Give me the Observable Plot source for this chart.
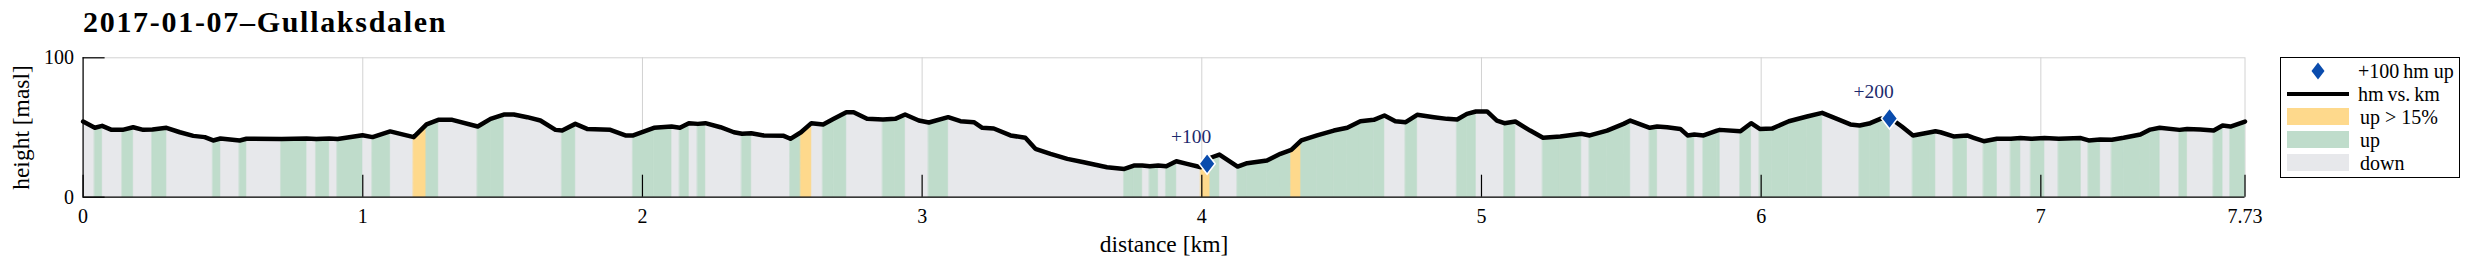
<!DOCTYPE html>
<html><head><meta charset="utf-8">
<script src="https://cdn.jsdelivr.net/npm/d3@7"></script>
<script src="https://cdn.jsdelivr.net/npm/@observablehq/plot@0.6"></script>
<style>
body{margin:0;background:#fff;font-family:"Liberation Serif",serif;color:#000;}
#wrap{position:relative;width:2472px;height:268px;overflow:hidden;}
#title{position:absolute;left:83px;top:7px;font-size:30px;font-weight:bold;line-height:30px;white-space:nowrap;letter-spacing:1.7px;}
#chart{position:absolute;left:0;top:40px;}
#legend{position:absolute;left:2280px;top:57px;width:180px;height:121px;border:1px solid #000;background:#fff;box-sizing:border-box;}
.li{position:absolute;left:0;width:180px;height:22px;}
.sw{position:absolute;left:6px;width:62px;}
.lt{position:absolute;left:77px;top:0;font-size:20px;line-height:22px;white-space:nowrap;}
</style></head>
<body>
<div id="wrap">
  <div id="title"></div>
  <div id="chart"></div>
  <div id="legend"></div>
</div>
<script>
// ---- data ----
const title = "2017-01-07–Gullaksdalen";
const km = [0.000,0.042,0.068,0.102,0.141,0.179,0.215,0.248,0.298,0.346,0.394,0.435,0.465,0.491,0.560,0.584,0.709,0.799,0.834,0.880,0.910,0.999,1.035,1.098,1.182,1.228,1.270,1.320,1.411,1.457,1.504,1.540,1.588,1.635,1.689,1.713,1.760,1.802,1.885,1.939,1.967,2.041,2.104,2.134,2.166,2.198,2.225,2.279,2.327,2.356,2.389,2.434,2.505,2.529,2.567,2.604,2.646,2.684,2.729,2.755,2.803,2.860,2.904,2.939,2.988,3.024,3.093,3.137,3.185,3.215,3.256,3.316,3.369,3.405,3.459,3.519,3.578,3.661,3.723,3.757,3.787,3.814,3.844,3.873,3.909,3.947,3.997,4.031,4.063,4.128,4.162,4.233,4.281,4.320,4.356,4.412,4.472,4.520,4.567,4.615,4.653,4.692,4.729,4.770,4.830,4.877,4.913,4.948,4.980,5.020,5.055,5.082,5.121,5.174,5.220,5.282,5.357,5.387,5.449,5.508,5.532,5.602,5.628,5.664,5.711,5.737,5.761,5.794,5.842,5.852,5.926,5.964,5.995,6.039,6.099,6.164,6.218,6.271,6.319,6.352,6.390,6.426,6.460,6.503,6.543,6.605,6.623,6.641,6.688,6.736,6.760,6.796,6.843,6.893,6.927,6.965,7.013,7.064,7.143,7.171,7.212,7.254,7.296,7.356,7.391,7.425,7.496,7.523,7.570,7.618,7.650,7.678,7.730];
const elev = [54.3,49.8,51.2,48.3,48.3,50.2,48.3,48.5,49.8,46.6,44.0,43.1,40.7,42.1,40.7,41.9,41.7,42.1,41.7,42.1,41.7,44.5,43.1,47.2,43.1,52.2,55.5,55.5,50.7,56.2,59.3,59.3,57.4,55.0,48.3,47.8,52.6,49.0,48.3,44.3,44.3,49.8,50.7,49.8,53.1,52.6,53.1,50.2,46.6,45.5,45.9,44.3,44.0,41.9,46.6,53.1,52.2,56.2,61.0,61.0,56.2,55.7,56.2,59.3,55.0,53.6,57.4,54.5,53.8,49.8,49.3,44.3,42.6,34.7,31.1,27.5,25.1,21.5,20.3,22.7,22.7,22.2,22.7,22.2,25.8,23.9,21.5,28.3,30.6,22.0,24.4,26.3,31.1,33.9,40.7,44.3,47.8,49.8,54.5,55.5,58.6,54.5,53.8,59.1,57.4,56.2,55.7,59.8,61.5,61.5,55.0,53.1,54.3,47.8,42.6,43.6,45.5,44.3,47.8,52.6,55.0,49.8,50.7,50.2,49.0,44.3,45.0,44.3,47.8,48.3,47.3,53.1,49.0,49.2,54.5,57.9,60.5,56.2,52.2,51.4,53.1,56.2,57.0,50.7,44.3,46.6,47.3,46.6,43.6,44.3,42.6,40.2,41.9,41.9,42.4,41.9,42.4,41.9,42.4,40.7,41.4,41.2,42.6,45.0,48.5,49.8,48.3,49.0,48.5,47.8,51.4,50.7,54.3];
// per segment between consecutive points: d = down, u = up, s = up > 15%
const segClass = ["d","u","d","d","u","d","d","u","d","d","d","d","u","d","u","d","u","d","u","d","u","d","u","d","s","u","d","d","u","u","d","d","d","d","d","u","d","d","d","d","u","u","d","u","d","u","d","d","d","u","d","d","d","u","s","d","u","u","d","d","d","u","u","d","d","u","d","d","d","d","d","d","d","d","d","d","d","d","u","u","d","u","d","u","d","d","s","u","d","u","u","u","u","s","u","u","u","u","u","u","d","d","u","d","d","d","u","u","d","d","d","u","d","d","u","u","d","u","u","u","d","u","d","d","d","u","d","u","u","d","u","d","u","u","u","u","d","d","d","u","u","u","d","d","u","u","d","d","u","d","d","u","d","u","d","u","d","u","d","u","d","u","u","u","u","d","u","d","d","u","d","u"];
const classKeys = ["s","u","d"];
const classNames = ["up > 15%","up","down"];
const markerKm = [4.019, 6.459];
const markerElev = [24.0, 56.5];
const markerLabel = ["+100","+200"];
const xTicks = [0,1,2,3,4,5,6,7,7.73];
const xTickLabels = ["0","1","2","3","4","5","6","7","7.73"];
const yTicks = [0,100];
const xLabel = "distance [km]";
const yLabel = "height [masl]";
const legendLabels = ["+100\u2009hm up","hm\u2009vs.\u2009km","up > 15%","up","down"];

// ---- styles ----
const C_STEEP = "#fed98c", C_UP = "#bfdccb", C_DOWN = "#e7e8eb";
const C_MARK = "#0a4cad", C_MARKTXT = "#1c2a6c", C_GRID = "#d2d2d2";
const FONT = "Liberation Serif";

document.getElementById("title").textContent = title;

const points = km.map((k, i) => ({km: k, elev: elev[i]}));
const segs = [];
for (let i = 0; i < km.length - 1; i++) {
  const name = classNames[classKeys.indexOf(segClass[i])];
  segs.push({seg: i, cls: name, km: km[i], elev: elev[i]});
  segs.push({seg: i, cls: name, km: km[i + 1], elev: elev[i + 1]});
}
const upSegs = segs.filter(d => d.cls !== "down");
const markers = markerKm.map((k, i) => ({km: k, elev: markerElev[i], label: markerLabel[i]}));

const diamond = {
  draw(ctx, size) {
    const h = Math.sqrt(size / Math.PI);
    const w = h * 0.77;
    ctx.moveTo(0, -h); ctx.lineTo(w, 0); ctx.lineTo(0, h); ctx.lineTo(-w, 0); ctx.closePath();
  }
};

const W = 2472, H = 228, ML = 82.6, MR = 227.5, MT = 17.3, MB = 71.3;
const plotW = W - ML - MR, plotH = H - MT - MB;

const chart = Plot.plot({
  width: W, height: H,
  marginLeft: ML, marginRight: MR, marginTop: MT, marginBottom: MB,
  style: {fontFamily: FONT, background: "white", color: "black", overflow: "visible"},
  x: {domain: [0, 7.73]},
  y: {domain: [0, 100]},
  color: {domain: classNames, range: [C_STEEP, C_UP, C_DOWN]},
  marks: [
    Plot.ruleX(xTicks.slice(1, -1), {x: d => d, stroke: C_GRID, strokeWidth: 1}),
    Plot.frame({stroke: C_GRID, strokeWidth: 1}),
    Plot.areaY(points, {x: "km", y1: 0, y2: "elev", fill: C_DOWN, curve: "linear"}),
    Plot.areaY(upSegs, {x: "km", y1: 0, y2: "elev", z: "seg", fill: "cls", stroke: "cls", strokeWidth: 0.6, curve: "linear"}),
    Plot.line(points, {x: "km", y: "elev", stroke: "black", strokeWidth: 4.5, strokeLinejoin: "round", strokeLinecap: "round"}),
    Plot.ruleY([0], {stroke: "black", strokeWidth: 1.2}),
    Plot.ruleX([0], {stroke: "black", strokeWidth: 1.2}),
    Plot.tickX(xTicks, {x: d => d, stroke: "black", strokeWidth: 1.2, insetTop: plotH - 22}),
    Plot.tickY(yTicks, {y: d => d, stroke: "black", strokeWidth: 1.2, insetRight: plotW - 22}),
    Plot.axisX(xTicks, {tickSize: 0, tickPadding: 12, fontSize: 20, label: null,
      tickFormat: d => xTickLabels[xTicks.indexOf(d)]}),
    Plot.axisY(yTicks, {tickSize: 0, tickPadding: 9, fontSize: 20, label: null}),
    Plot.dot(markers, {x: "km", y: "elev", symbol: diamond, r: 10.5, fill: C_MARK, stroke: "white", strokeWidth: 1.6}),
    Plot.text(markers, {x: "km", y: "elev", text: "label", dx: -16, dy: -27, fill: C_MARKTXT, fontSize: 19.5}),
    Plot.text([xLabel], {frameAnchor: "bottom", lineAnchor: "bottom", textAnchor: "middle", dy: 55, fontSize: 23.5}),
    Plot.text([yLabel], {frameAnchor: "left", lineAnchor: "bottom", textAnchor: "middle", rotate: -90, dx: -54, fontSize: 23.5})
  ]
});
document.getElementById("chart").appendChild(chart);

// ---- legend ----
const legend = document.getElementById("legend");
const rowTop = [2, 25, 48, 71, 94];
const swatchColors = [null, null, C_STEEP, C_UP, C_DOWN];
legendLabels.forEach((lab, i) => {
  const row = document.createElement("div");
  row.className = "li";
  row.style.top = rowTop[i] + "px";
  if (i === 0) {
    row.innerHTML = `<svg style="position:absolute;left:22px;top:0" width="30" height="22"><path d="M15,2.5L21.5,11L15,19.5L8.5,11Z" fill="${C_MARK}"/></svg>`;
  } else if (i === 1) {
    const s = document.createElement("div");
    s.className = "sw"; s.style.top = "9px"; s.style.height = "4px"; s.style.background = "#000";
    row.appendChild(s);
  } else {
    const s = document.createElement("div");
    s.className = "sw"; s.style.top = "2px"; s.style.height = "17px"; s.style.background = swatchColors[i];
    row.appendChild(s);
  }
  const t = document.createElement("div");
  t.className = "lt";
  if (i >= 2) t.style.left = "79px";
  t.textContent = lab;
  row.appendChild(t);
  legend.appendChild(row);
});
</script>
</body></html>
